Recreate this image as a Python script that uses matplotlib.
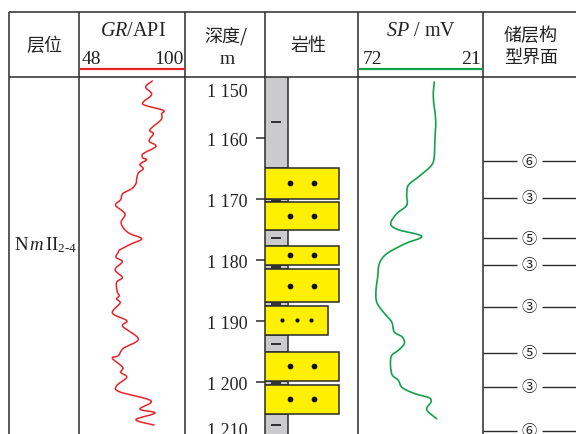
import matplotlib
matplotlib.use('Agg')
import matplotlib.pyplot as plt
from matplotlib.ticker import FixedLocator, FixedFormatter
from matplotlib.path import Path
from matplotlib.patches import PathPatch

plt.rcParams['font.family'] = ['Liberation Serif', 'Noto Sans CJK SC']
plt.rcParams['mathtext.fontset'] = 'custom'
plt.rcParams['mathtext.rm'] = 'Liberation Serif'
plt.rcParams['mathtext.it'] = 'Liberation Serif:italic'

# ---------------- data ----------------
gr_depth = [1150.66, 1151.64, 1152.84, 1154.10, 1154.64, 1155.46, 1156.02, 1157.00,
            1158.64, 1159.30, 1160.49, 1161.36, 1162.57, 1163.23, 1163.56, 1164.31,
            1165.03, 1165.74, 1166.67, 1167.49, 1168.31, 1169.13, 1170.11, 1171.03,
            1172.41, 1173.77, 1174.87, 1175.69, 1176.51, 1177.33, 1178.31, 1178.74,
            1179.56, 1180.28, 1181.59, 1182.84, 1183.66, 1185.20, 1185.85, 1186.39,
            1187.05, 1188.69, 1189.95, 1190.87, 1192.95, 1194.48, 1195.69, 1196.11,
            1197.59, 1198.41, 1199.23, 1200.61, 1201.59, 1203.07, 1204.43, 1205.08,
            1206.18, 1207.05]
gr_value = [83.9, 80.6, 83.6, 79.4, 80.3, 89.3, 88.5, 88.2,
            82.7, 84.4, 82.3, 85.7, 79.4, 79.2, 81.1, 77.8,
            79.4, 77.0, 76.2, 75.8, 73.7, 69.3, 68.3, 65.8,
            70.4, 68.5, 69.9, 72.9, 78.7, 73.7, 68.0, 67.1,
            66.0, 69.1, 65.5, 69.1, 66.3, 66.6, 67.6, 66.3,
            68.0, 64.2, 71.3, 69.3, 77.0, 69.6, 67.1, 64.2,
            69.3, 68.3, 71.3, 66.3, 67.6, 83.2, 77.8, 85.2,
            75.8, 84.7]

sp_depth = [1150.82, 1153.28, 1157.10, 1159.84, 1163.39, 1164.75, 1166.39, 1167.75,
            1169.39, 1171.03, 1172.41, 1174.05, 1175.03, 1176.11, 1177.33, 1178.97,
            1180.61, 1182.79, 1184.97, 1186.89, 1188.52, 1190.16, 1191.80, 1192.62,
            1193.72, 1194.80, 1195.90, 1198.64, 1199.72, 1200.93, 1201.92, 1202.57,
            1203.28, 1204.54, 1206.02]
sp_value = [40.75, 41.16, 40.17, 40.46, 40.87, 42.51, 47.30, 51.40,
            52.05, 52.05, 56.15, 58.61, 55.49, 45.91, 52.75, 60.24,
            63.28, 63.93, 64.63, 64.34, 61.64, 58.20, 57.13, 53.85,
            53.04, 55.49, 58.48, 58.20, 55.49, 53.85, 48.65, 42.92,
            42.10, 43.86, 39.76]

lith_top = [1150.0, 1164.9, 1170.0, 1170.5, 1175.1, 1177.7, 1180.8, 1181.5,
            1186.9, 1187.5, 1192.3, 1195.1, 1199.8, 1200.5, 1205.2]
lith_base = [1164.9, 1170.0, 1170.5, 1175.1, 1177.7, 1180.8, 1181.5, 1186.9,
             1187.5, 1192.3, 1195.1, 1199.8, 1200.5, 1205.2, 1208.8]
lith_type = ['mud', 'sand', 'mud', 'sand', 'mud', 'sand', 'mud', 'sand',
             'mud', 'fine', 'mud', 'sand', 'mud', 'sand', 'mud']

bound_depth = [1163.8, 1169.8, 1176.4, 1180.8, 1187.7, 1195.2, 1200.8, 1208.0]
bound_label = ['⑥', '③', '⑤', '③', '③', '⑤', '③', '⑥']

depth_ticks = [1160, 1170, 1180, 1190, 1200]
depth_tick_labels = ['1 160', '1 170', '1 180', '1 190', '1 200']
edge_label_depth = [1152.0, 1207.7]
edge_labels = ['1 150', '1 210']

gr_range = (48, 100)
sp_range = (72, 21)
depth_top = 1150.0
depth_bottom = 1208.52

# ---------------- layout ----------------
W, H = 576, 435
fig = plt.figure(figsize=(W / 100, H / 100), dpi=100)

def rect(x0, x1, y0, y1):
    return [x0 / W, 1 - y1 / H, (x1 - x0) / W, (y1 - y0) / H]

LC = '#2b2b2b'
LW = 1.1
cols = [9, 79, 185, 265, 358, 482.5]
top, hbot = 13, 78

bg = fig.add_axes([0, 0, 1, 1])
bg.set_xlim(0, W)
bg.set_ylim(H, 0)
bg.axis('off')
bg.plot([9, W], [top, top], color=LC, lw=LW, solid_capstyle='butt')
bg.plot([9, W], [hbot, hbot], color=LC, lw=LW, solid_capstyle='butt')
for x in cols:
    bg.plot([x, x], [top - 0.5, H], color=LC, lw=LW, solid_capstyle='butt')

cjk = ['Noto Sans CJK SC']
serif = ['Liberation Serif', 'Noto Sans CJK SC']
TC = '#222'
bg.text(44, 46, '层位', family=cjk, fontsize=13, ha='center', va='center', color=TC)
bg.text(133, 31, r'$\mathit{GR}$/API', family=serif, fontsize=14.5, ha='center', va='center', color=TC)
bg.text(82, 60, '48', family=serif, fontsize=14, ha='left', va='center', color=TC)
bg.text(184, 60, '100', family=serif, fontsize=14, ha='right', va='center', color=TC)
bg.plot([80, 185], [70, 70], color='#e8232a', lw=1.6, solid_capstyle='butt')
bg.text(226, 36, '深度/', family=cjk, fontsize=13, ha='center', va='center', color=TC)
bg.text(227, 59, 'm', family=serif, fontsize=14, ha='center', va='center', color=TC)
bg.text(309, 46, '岩性', family=cjk, fontsize=13, ha='center', va='center', color=TC)
bg.text(421, 31, r'$\mathit{SP}$ / mV', family=serif, fontsize=14.5, ha='center', va='center', color=TC)
bg.text(363, 60, '72', family=serif, fontsize=14, ha='left', va='center', color=TC)
bg.text(481, 60, '21', family=serif, fontsize=14, ha='right', va='center', color=TC)
bg.plot([359, 482], [70, 70], color='#13a14b', lw=1.6, solid_capstyle='butt')
bg.text(531, 36, '储层构', family=cjk, fontsize=13, ha='center', va='center', color=TC)
bg.text(531, 58, '型界面', family=cjk, fontsize=13, ha='center', va='center', color=TC)

bg.text(46, 245, r'$\mathrm{N}\,\mathit{m}\,\mathrm{II}_{\mathrm{2\text{-}4}}$', fontsize=13.5,
        ha='center', va='center', color=TC)

def col_axes(x0, x1):
    ax = fig.add_axes(rect(x0, x1, hbot, H))
    ax.set_ylim(depth_bottom, depth_top)
    ax.patch.set_alpha(0)
    for s in ax.spines.values():
        s.set_visible(False)
    ax.set_xticks([])
    ax.set_yticks([])
    return ax

def smooth_path(xs, ys):
    pts = list(zip(xs, ys))
    verts = [pts[0]]
    codes = [Path.MOVETO]
    n = len(pts)
    for i in range(n - 1):
        p0 = pts[i - 1] if i > 0 else pts[i]
        p1 = pts[i]
        p2 = pts[i + 1]
        p3 = pts[i + 2] if i + 2 < n else pts[i + 1]
        c1 = (p1[0] + (p2[0] - p0[0]) / 6, p1[1] + (p2[1] - p0[1]) / 6)
        c2 = (p2[0] - (p3[0] - p1[0]) / 6, p2[1] - (p3[1] - p1[1]) / 6)
        verts += [c1, c2, p2]
        codes += [Path.CURVE4] * 3
    return Path(verts, codes)

# GR
ax_gr = col_axes(79.5, 185)
ax_gr.set_xlim(*gr_range)
ax_gr.add_patch(PathPatch(smooth_path(gr_value, gr_depth), fill=False,
                          edgecolor='#e8232a', lw=1.1, joinstyle='round', capstyle='round'))

# SP
ax_sp = col_axes(358, 482.5)
ax_sp.set_xlim(*sp_range)
ax_sp.add_patch(PathPatch(smooth_path(sp_value, sp_depth), fill=False,
                          edgecolor='#13a14b', lw=1.2, joinstyle='round', capstyle='round'))

# Lithology
ax_li = col_axes(265, 358)
ax_li.set_xlim(0, 1)
width_of = {'mud': 0.245, 'sand': 0.8, 'fine': 0.68}
color_of = {'mud': '#cbcbce', 'sand': '#fff000', 'fine': '#fff000'}
order = sorted(range(len(lith_type)), key=lambda i: 0 if lith_type[i] == 'mud' else 1)
for i in order:
    t = lith_type[i]
    ax_li.barh(lith_top[i], width_of[t], height=lith_base[i] - lith_top[i], left=0,
               align='edge', color=color_of[t], edgecolor=LC, linewidth=1.1,
               zorder=2 if t == 'mud' else 3)
    mid = (lith_top[i] + lith_base[i]) / 2
    if t == 'mud':
        ax_li.plot([0.12], [mid], marker='_', ms=7, mew=1.3, color=TC, zorder=4)
    elif t == 'sand':
        ax_li.scatter([0.27, 0.53], [mid, mid], s=17, color='#111', zorder=4, linewidths=0)
    else:
        ax_li.scatter([0.18, 0.34, 0.49], [mid] * 3, s=9, color='#111', zorder=4, linewidths=0)

ax_li.yaxis.set_major_locator(FixedLocator(depth_ticks))
ax_li.yaxis.set_major_formatter(FixedFormatter(depth_tick_labels))
ax_li.yaxis.set_minor_locator(FixedLocator(edge_label_depth))
ax_li.yaxis.set_minor_formatter(FixedFormatter(edge_labels))
ax_li.tick_params(axis='y', which='major', direction='out', length=6.5, width=1.1,
                  color=LC, pad=6, labelsize=13, labelcolor=TC)
ax_li.tick_params(axis='y', which='minor', length=0, pad=12.5, labelsize=13, labelcolor=TC)

# Boundaries
ax_b = col_axes(482.5, 576)
ax_b.set_xlim(0, 1)
ax_b.hlines(bound_depth, 0, 0.366, color=LC, lw=1.0)
ax_b.hlines(bound_depth, 0.633, 1.0, color=LC, lw=1.0)
for d, lab in zip(bound_depth, bound_label):
    ax_b.text(0.5, d, lab, family=cjk, fontsize=11, ha='center', va='center', color=TC, clip_on=False)

fig.savefig('out.png', dpi=100)
